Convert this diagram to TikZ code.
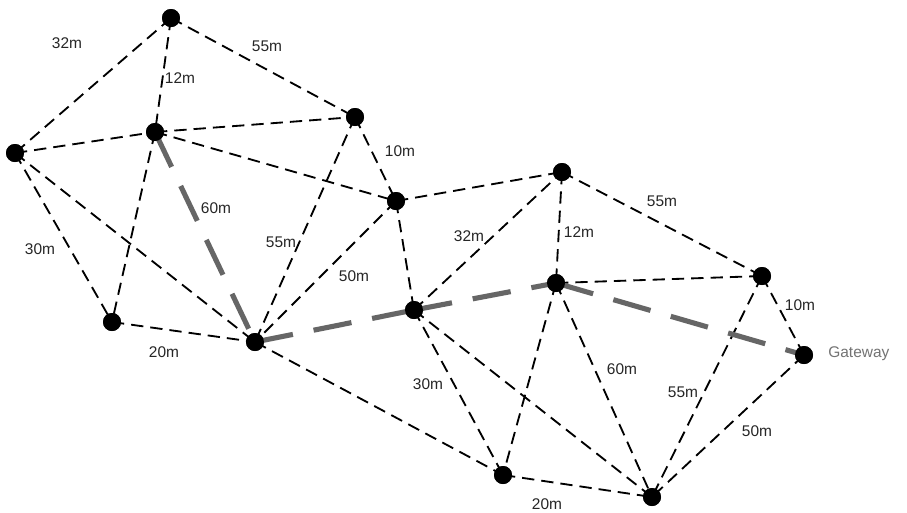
\documentclass[tikz,border=0pt]{standalone}
\usepackage{fontspec}
\setmainfont{Liberation Sans}
\begin{document}
\begin{tikzpicture}[x=0.02cm,y=-0.02cm,
  dot/.style={circle,fill=black,inner sep=0pt,minimum size=0.36cm},
  link/.style={dash pattern=on 7pt off 4pt,line width=1.05pt,black},
  route/.style={dash pattern=on 22pt off 12pt,line width=2.9pt,black!60},
  lbl/.style={font=\fontsize{8.8}{10}\selectfont,inner sep=0pt,text=black!85}]
\useasboundingbox (0,0) rectangle (907,512);
\fill[white] (0,0) rectangle (907,512);
\node[dot] (A) at (171,18) {};
\node[dot] (B) at (155,132) {};
\node[dot] (C) at (15,153) {};
\node[dot] (D) at (355,117) {};
\node[dot] (E) at (396,201) {};
\node[dot] (F) at (112,322) {};
\node[dot] (G) at (255,342) {};
\node[dot] (H) at (414,310) {};
\node[dot] (I) at (562,172) {};
\node[dot] (J) at (556,283) {};
\node[dot] (K) at (762,276) {};
\node[dot] (L) at (804,355) {};
\node[dot] (M) at (503,475) {};
\node[dot] (N) at (652,497) {};
% thin dashed links
\foreach \a/\b in {A/C,A/B,A/D,C/B,B/D,D/E,B/E,C/F,C/G,B/F,D/G,E/G,E/H,F/G,E/I,H/I,I/J,I/K,J/K,K/L,G/M,H/M,H/N,J/M,J/N,K/N,L/N,M/N}
  \draw[link] (\a.center) -- (\b.center);
% thick route
\foreach \a/\b in {B/G,G/H,H/J,J/L}
  \draw[route] (\a.center) -- (\b.center);
% redraw dots on top
\foreach \n in {A,B,C,D,E,F,G,H,I,J,K,L,M,N}
  \fill (\n.center) circle (0.18cm);
% labels
\node[lbl] (l1) at (67,43) {32m};
\node[lbl] (l2) at (180,78) {12m};
\node[lbl] (l3) at (267,46) {55m};
\node[lbl] (l4) at (400,151) {10m};
\node[lbl] (l5) at (216,208) {60m};
\node[lbl] (l6) at (281,242) {55m};
\node[lbl] (l7) at (354,276) {50m};
\node[lbl] (l8) at (40,249) {30m};
\node[lbl] (l9) at (164,352) {20m};
\node[lbl] (l10) at (469,236) {32m};
\node[lbl] (l11) at (579,232) {12m};
\node[lbl] (l12) at (662,201) {55m};
\node[lbl] (l13) at (800,305) {10m};
\node[lbl,text=black!55,anchor=west] (gw) at (828,354) {Gateway};
\node[lbl] (l14) at (428,384) {30m};
\node[lbl] (l15) at (622,369) {60m};
\node[lbl] (l16) at (683,392) {55m};
\node[lbl] (l17) at (757,431) {50m};
\node[lbl] (l18) at (547,504) {20m};
\end{tikzpicture}
\end{document}
